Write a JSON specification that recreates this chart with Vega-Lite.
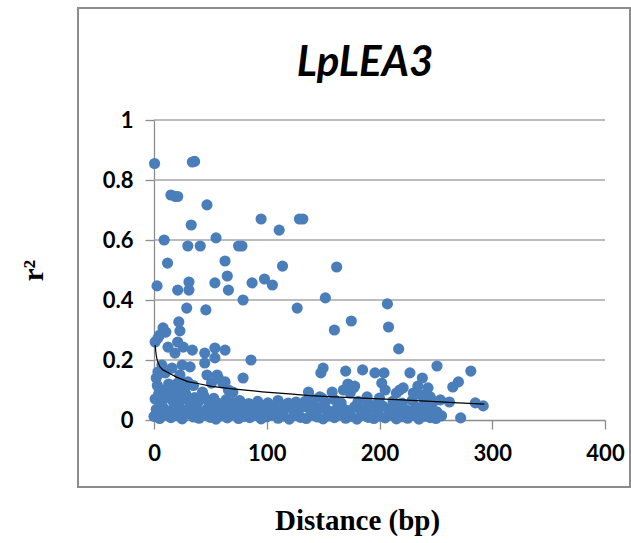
{
  "$schema": "https://vega.github.io/schema/vega-lite/v6.json",
  "width": 552,
  "height": 479,
  "autosize": {"type": "none"},
  "padding": {"left": 78, "top": 8, "right": 1, "bottom": 56},
  "background": "#ffffff",
  "config": {
    "view": {"stroke": "#8c8c8c", "strokeWidth": 2},
    "axis": {
      "domainColor": "#8c8c8c",
      "domainWidth": 1.3,
      "tickColor": "#8c8c8c",
      "tickWidth": 1.3,
      "tickSize": 9,
      "grid": false,
      "labelFlush": false,
      "labelFont": "Lato",
      "labelFontWeight": "bold",
      "labelFontSize": 22,
      "labelColor": "#000000",
      "titleFont": "Liberation Serif",
      "titleFontWeight": "bold",
      "titleFontSize": 29,
      "titleColor": "#000000"
    }
  },
  "title": {
    "text": "LpLEA3",
    "font": "Lato",
    "fontStyle": "italic",
    "fontWeight": "bold",
    "fontSize": 42,
    "color": "#000000",
    "anchor": "middle",
    "frame": "group",
    "offset": 0,
    "baseline": "alphabetic",
    "dy": 110,
    "dx": 11
  },
  "datasets": {
    "grid": [{"y": 0.2}, {"y": 0.4}, {"y": 0.6}, {"y": 0.8}, {"y": 1.0}],
    "pts": [
      {"x": 0.5, "y": 0.855}, {"x": 34, "y": 0.86}, {"x": 36, "y": 0.862}, {"x": 15, "y": 0.75}, {"x": 19, "y": 0.745}, {"x": 21, "y": 0.745},
      {"x": 47, "y": 0.717}, {"x": 33, "y": 0.65}, {"x": 9, "y": 0.6}, {"x": 30, "y": 0.58}, {"x": 41, "y": 0.58}, {"x": 55, "y": 0.607},
      {"x": 75, "y": 0.58}, {"x": 78, "y": 0.58}, {"x": 95, "y": 0.67}, {"x": 111, "y": 0.633}, {"x": 129, "y": 0.67}, {"x": 132, "y": 0.67},
      {"x": 12, "y": 0.523}, {"x": 63, "y": 0.53}, {"x": 65, "y": 0.48}, {"x": 2.7, "y": 0.447}, {"x": 21, "y": 0.433}, {"x": 31, "y": 0.46},
      {"x": 31, "y": 0.433}, {"x": 54, "y": 0.457}, {"x": 66, "y": 0.433}, {"x": 87, "y": 0.457}, {"x": 98, "y": 0.47}, {"x": 79, "y": 0.4},
      {"x": 114, "y": 0.513}, {"x": 162, "y": 0.51}, {"x": 105, "y": 0.45}, {"x": 152, "y": 0.407}, {"x": 127, "y": 0.373}, {"x": 175, "y": 0.33},
      {"x": 160, "y": 0.3}, {"x": 207, "y": 0.387}, {"x": 208, "y": 0.31}, {"x": 217, "y": 0.237}, {"x": 251, "y": 0.18}, {"x": 281, "y": 0.163},
      {"x": 29, "y": 0.373}, {"x": 46, "y": 0.367}, {"x": 22, "y": 0.327}, {"x": 8, "y": 0.307}, {"x": 10.5, "y": 0.293}, {"x": 5, "y": 0.283},
      {"x": 23, "y": 0.297}, {"x": 1, "y": 0.26}, {"x": 3.5, "y": 0.273}, {"x": 21, "y": 0.26}, {"x": 12.4, "y": 0.243}, {"x": 18.6, "y": 0.223},
      {"x": 26, "y": 0.243}, {"x": 34, "y": 0.233}, {"x": 45, "y": 0.223}, {"x": 54, "y": 0.24}, {"x": 63, "y": 0.233}, {"x": 54, "y": 0.207},
      {"x": 45, "y": 0.19}, {"x": 86, "y": 0.2}, {"x": 7, "y": 0.183}, {"x": 25, "y": 0.183}, {"x": 32, "y": 0.177}, {"x": 16, "y": 0.173},
      {"x": 5, "y": 0.157}, {"x": 47, "y": 0.15}, {"x": 56, "y": 0.15}, {"x": 79, "y": 0.14}, {"x": 21, "y": 0.123}, {"x": 30, "y": 0.127},
      {"x": 61, "y": 0.123}, {"x": 20, "y": 0.107}, {"x": 43, "y": 0.093}, {"x": 3.5, "y": 0.16}, {"x": 10, "y": 0.157}, {"x": 23, "y": 0.15},
      {"x": 20, "y": 0.117}, {"x": 23, "y": 0.127}, {"x": 51, "y": 0.123}, {"x": 57, "y": 0.14}, {"x": 63, "y": 0.127}, {"x": 66, "y": 0.1},
      {"x": 70, "y": 0.093}, {"x": 2, "y": 0.14}, {"x": 9, "y": 0.1}, {"x": 3, "y": 0.115}, {"x": 13, "y": 0.12}, {"x": 27, "y": 0.105}, {"x": 35, "y": 0.115},
      {"x": 150, "y": 0.173}, {"x": 148, "y": 0.157}, {"x": 170, "y": 0.163}, {"x": 185, "y": 0.167}, {"x": 196, "y": 0.157}, {"x": 204, "y": 0.157},
      {"x": 227, "y": 0.157}, {"x": 238, "y": 0.14}, {"x": 270, "y": 0.127}, {"x": 265, "y": 0.11}, {"x": 202, "y": 0.123}, {"x": 205, "y": 0.1},
      {"x": 221, "y": 0.107}, {"x": 234, "y": 0.113}, {"x": 243, "y": 0.107}, {"x": 237, "y": 0.083}, {"x": 262, "y": 0.06}, {"x": 285, "y": 0.057},
      {"x": 292, "y": 0.047}, {"x": 272, "y": 0.007}, {"x": 251, "y": 0.027}, {"x": 225, "y": 0.027}, {"x": 174, "y": 0.113}, {"x": 177, "y": 0.107},
      {"x": 137, "y": 0.093}, {"x": 158, "y": 0.093}, {"x": 172, "y": 0.12}, {"x": 178, "y": 0.113}, {"x": 168, "y": 0.1}, {"x": 174, "y": 0.09},
      {"x": 215, "y": 0.09}, {"x": 218, "y": 0.1}, {"x": 230, "y": 0.09}, {"x": 245, "y": 0.077}, {"x": 254, "y": 0.067}, {"x": 189, "y": 0.077},
      {"x": 200, "y": 0.073}, {"x": 147, "y": 0.077}, {"x": 138, "y": 0.077}, {"x": 149, "y": 0.073}, {"x": 107, "y": 0.04}, {"x": 116, "y": 0.05}, {"x": 96, "y": 0.043},
      {"x": 0, "y": 0.012}, {"x": 5, "y": 0.005}, {"x": 10, "y": 0.018}, {"x": 15, "y": 0.008}, {"x": 20, "y": 0.015}, {"x": 25, "y": 0.004},
      {"x": 30, "y": 0.02}, {"x": 35, "y": 0.01}, {"x": 40, "y": 0.006}, {"x": 45, "y": 0.017}, {"x": 50, "y": 0.009}, {"x": 55, "y": 0.003},
      {"x": 60, "y": 0.014}, {"x": 65, "y": 0.007}, {"x": 70, "y": 0.019}, {"x": 75, "y": 0.005}, {"x": 80, "y": 0.012}, {"x": 85, "y": 0.008},
      {"x": 90, "y": 0.016}, {"x": 95, "y": 0.004}, {"x": 100, "y": 0.011}, {"x": 105, "y": 0.018}, {"x": 110, "y": 0.006}, {"x": 115, "y": 0.013},
      {"x": 120, "y": 0.003}, {"x": 125, "y": 0.015}, {"x": 130, "y": 0.009}, {"x": 135, "y": 0.005}, {"x": 140, "y": 0.017}, {"x": 145, "y": 0.01},
      {"x": 150, "y": 0.004}, {"x": 155, "y": 0.014}, {"x": 160, "y": 0.008}, {"x": 165, "y": 0.019}, {"x": 170, "y": 0.006}, {"x": 175, "y": 0.012},
      {"x": 180, "y": 0.003}, {"x": 185, "y": 0.016}, {"x": 190, "y": 0.009}, {"x": 195, "y": 0.005}, {"x": 200, "y": 0.013}, {"x": 205, "y": 0.007},
      {"x": 210, "y": 0.018}, {"x": 215, "y": 0.004}, {"x": 220, "y": 0.011}, {"x": 225, "y": 0.006}, {"x": 230, "y": 0.015}, {"x": 235, "y": 0.003},
      {"x": 240, "y": 0.012}, {"x": 245, "y": 0.008}, {"x": 250, "y": 0.005}, {"x": 255, "y": 0.014},
      {"x": 2, "y": 0.035}, {"x": 8, "y": 0.042}, {"x": 13, "y": 0.03}, {"x": 18, "y": 0.045}, {"x": 23, "y": 0.038}, {"x": 28, "y": 0.032},
      {"x": 33, "y": 0.044}, {"x": 38, "y": 0.036}, {"x": 43, "y": 0.03}, {"x": 48, "y": 0.041}, {"x": 53, "y": 0.034}, {"x": 58, "y": 0.046},
      {"x": 63, "y": 0.031}, {"x": 68, "y": 0.039}, {"x": 73, "y": 0.033}, {"x": 78, "y": 0.043}, {"x": 83, "y": 0.03}, {"x": 88, "y": 0.037},
      {"x": 93, "y": 0.044}, {"x": 98, "y": 0.032}, {"x": 103, "y": 0.04}, {"x": 108, "y": 0.035}, {"x": 113, "y": 0.029}, {"x": 118, "y": 0.042},
      {"x": 123, "y": 0.036}, {"x": 128, "y": 0.031}, {"x": 133, "y": 0.045}, {"x": 138, "y": 0.038}, {"x": 143, "y": 0.03}, {"x": 148, "y": 0.041},
      {"x": 153, "y": 0.034}, {"x": 158, "y": 0.028}, {"x": 163, "y": 0.043}, {"x": 168, "y": 0.037}, {"x": 173, "y": 0.031}, {"x": 178, "y": 0.044},
      {"x": 183, "y": 0.035}, {"x": 188, "y": 0.03}, {"x": 193, "y": 0.04}, {"x": 198, "y": 0.033}, {"x": 203, "y": 0.046}, {"x": 208, "y": 0.036},
      {"x": 213, "y": 0.029}, {"x": 218, "y": 0.041}, {"x": 223, "y": 0.035}, {"x": 228, "y": 0.03}, {"x": 233, "y": 0.042}, {"x": 238, "y": 0.034},
      {"x": 243, "y": 0.038}, {"x": 248, "y": 0.03},
      {"x": 1, "y": 0.07}, {"x": 4, "y": 0.085}, {"x": 7, "y": 0.06}, {"x": 11, "y": 0.075}, {"x": 14, "y": 0.09}, {"x": 17, "y": 0.062},
      {"x": 21, "y": 0.08}, {"x": 25, "y": 0.068}, {"x": 28, "y": 0.088}, {"x": 32, "y": 0.058}, {"x": 36, "y": 0.075}, {"x": 40, "y": 0.064},
      {"x": 44, "y": 0.082}, {"x": 49, "y": 0.06}, {"x": 53, "y": 0.072}, {"x": 58, "y": 0.055}, {"x": 64, "y": 0.068}, {"x": 70, "y": 0.058},
      {"x": 76, "y": 0.065}, {"x": 84, "y": 0.055}, {"x": 92, "y": 0.062}, {"x": 101, "y": 0.057}, {"x": 110, "y": 0.065}, {"x": 119, "y": 0.056},
      {"x": 126, "y": 0.06}, {"x": 134, "y": 0.062}, {"x": 141, "y": 0.055}, {"x": 152, "y": 0.06}, {"x": 160, "y": 0.068}, {"x": 166, "y": 0.057},
      {"x": 181, "y": 0.062}, {"x": 190, "y": 0.055}, {"x": 199, "y": 0.06}, {"x": 212, "y": 0.063}, {"x": 220, "y": 0.056}, {"x": 229, "y": 0.065},
      {"x": 240, "y": 0.058}, {"x": 248, "y": 0.062}
    ],
    "trend": [
      {"x": 1, "y": 0.25}, {"x": 2, "y": 0.215}, {"x": 3, "y": 0.197}, {"x": 5.3, "y": 0.177}, {"x": 8, "y": 0.167}, {"x": 14, "y": 0.155},
      {"x": 20, "y": 0.143}, {"x": 30, "y": 0.128}, {"x": 41, "y": 0.12}, {"x": 51, "y": 0.112}, {"x": 72, "y": 0.103}, {"x": 96, "y": 0.094},
      {"x": 120, "y": 0.087}, {"x": 138, "y": 0.081}, {"x": 160, "y": 0.077}, {"x": 190, "y": 0.072}, {"x": 220, "y": 0.067}, {"x": 250, "y": 0.061},
      {"x": 270, "y": 0.057}, {"x": 293, "y": 0.053}
    ]
  },
  "layer": [
    {
      "data": {"name": "grid"},
      "mark": {"type": "rule", "color": "#a6a6a6", "strokeWidth": 1.3},
      "encoding": {
        "y": {"field": "y", "type": "quantitative", "title": "r²"},
        "x": {"datum": 0, "type": "quantitative"},
        "x2": {"datum": 400}
      }
    },
    {
      "data": {"name": "pts"},
      "mark": {"type": "circle", "size": 125, "color": "#4a7ebb", "opacity": 1},
      "encoding": {
        "x": {
          "field": "x", "type": "quantitative", "title": "Distance (bp)",
          "scale": {"domain": [0, 400], "range": [76, 527], "nice": false, "zero": false},
          "axis": {"values": [0, 100, 200, 300, 400], "format": "d", "offset": -67, "labelPadding": 14,
                   "titleX": 279, "titleY": 100, "titleBaseline": "middle", "titleAlign": "center"}
        },
        "y": {
          "field": "y", "type": "quantitative", "title": "r²",
          "scale": {"domain": [0, 1], "range": [412, 112], "nice": false, "zero": false},
          "axis": {"values": [0, 0.2, 0.4, 0.6, 0.8, 1], "format": "~g", "offset": -76, "labelPadding": 12,
                   "titleX": -121, "titleY": 262, "titleAngle": -90, "titleBaseline": "middle", "titleAlign": "center"}
        }
      }
    },
    {
      "data": {"name": "trend"},
      "mark": {"type": "line", "color": "#000000", "strokeWidth": 1.2},
      "encoding": {
        "x": {"field": "x", "type": "quantitative", "title": "Distance (bp)"},
        "y": {"field": "y", "type": "quantitative", "title": "r²"}
      }
    }
  ]
}
